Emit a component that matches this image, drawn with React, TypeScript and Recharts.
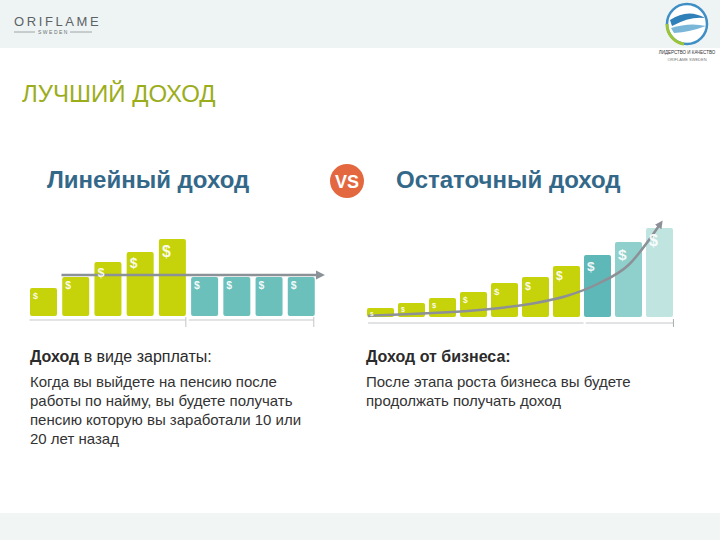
import { ComposedChart, Bar, Cell, Line, XAxis, YAxis, ReferenceLine, LabelList } from "recharts";

// Left chart: linear income (salary years, then flat pension)
const linearIdx = [1, 2, 3, 4, 5, 6, 7, 8, 9];
const linearValues = [28, 39, 54, 64, 77, 39, 39, 39, 39];
const linearKinds = ["work", "work", "work", "work", "work", "pension", "pension", "pension", "pension"];
const linearArrowLevel = 41;

// Right chart: residual income (business growth, then passive income)
const residualIdx = [1, 2, 3, 4, 5, 6, 7, 8, 9, 10];
const residualValues = [9, 14, 19, 25, 34, 40, 51, 62, 75, 89];
const residualKinds = ["grow", "grow", "grow", "grow", "grow", "grow", "grow", "passive1", "passive2", "passive3"];
const curveIdx = [0.6, 1, 2, 3, 4, 5, 6, 7, 8, 9, 10];
const curveValues = [1, 1.8, 3, 4.5, 6.5, 9.5, 14, 21, 33, 52, 92];

const KIND_COLORS: Record<string, string> = {
  work: "#c6d20a",
  pension: "#6cc0bc",
  grow: "#c6d20a",
  passive1: "#5fb8b8",
  passive2: "#8fd0cc",
  passive3: "#c0e4e0",
};

const FONT = "'Liberation Sans', Arial, sans-serif";

const linearData = linearIdx.map((i, k) => ({ i, v: linearValues[k], kind: linearKinds[k] }));
const residualData = residualIdx.map((i, k) => ({ i, v: residualValues[k], kind: residualKinds[k] }));
const curveData = curveIdx.map((i, k) => ({ i, c: curveValues[k] }));

// white "$" in the top-left corner of every bar, bigger on taller bars
function Dollar(props: any) {
  const box = props.viewBox && props.viewBox.height != null ? props.viewBox : props;
  const x = Number(box.x);
  const y = Number(box.y);
  const h = Number(box.height);
  if (!isFinite(x) || !isFinite(y)) return null;
  const fs = Math.max(6, Math.min(16, 5 + h * 0.14));
  return (
    <text x={x + 3} y={y + fs + 2} fill="#ffffff" fillOpacity={0.92} fontSize={fs} fontWeight={700} fontFamily={FONT}>
      $
    </text>
  );
}

function Header() {
  return (
    <>
      <div style={{ position: "absolute", left: 0, top: 0, width: 720, height: 48, background: "#eef4f3" }} />
      <svg style={{ position: "absolute", left: 0, top: 0 }} width={720} height={70}>
        <text x={14} y={26} fontSize={13} letterSpacing={2.6} fill="#5d6266" fontFamily={FONT}>
          ORIFLAME
        </text>
        <line x1={14} y1={32} x2={35} y2={32} stroke="#8a8f92" strokeWidth={0.8} />
        <text x={38} y={34} fontSize={5} letterSpacing={1.5} fill="#6c7174" fontFamily={FONT}>
          SWEDEN
        </text>
        <line x1={70} y1={32} x2={92} y2={32} stroke="#8a8f92" strokeWidth={0.8} />
        {/* round emblem top right */}
        <circle cx={687} cy={24} r={20} fill="#ffffff" stroke="#3f8fc6" strokeWidth={2.5} />
        <path d="M667 24 A20 20 0 0 0 684 44" fill="none" stroke="#9cc43a" strokeWidth={3} />
        <path d="M670 20 Q688 8 705 18 Q690 16 672 26 Z" fill="#2f7fb8" />
        <path d="M671 28 Q690 22 706 26 Q690 32 674 33 Z" fill="#79b6d8" />
        <text x={687} y={54} fontSize={4.5} textAnchor="middle" fill="#333" fontFamily={FONT}>
          ЛИДЕРСТВО И КАЧЕСТВО
        </text>
        <text x={687} y={61} fontSize={4} textAnchor="middle" fill="#777" fontFamily={FONT}>
          ORIFLAME SWEDEN
        </text>
      </svg>
    </>
  );
}

export default function App() {
  return (
    <div
      style={{
        position: "absolute",
        left: 0,
        top: 0,
        width: 720,
        height: 540,
        background: "#ffffff",
        overflow: "hidden",
        fontFamily: FONT,
      }}
    >
      {/* arrow heads shared by both charts */}
      <svg width={0} height={0} style={{ position: "absolute" }}>
        <defs>
          <marker id="arrowFlat" viewBox="0 0 10 10" refX={3} refY={5} markerWidth={9} markerHeight={10} markerUnits="userSpaceOnUse" orient="auto">
            <path d="M0,0 L10,5 L0,10 z" fill="#8a9197" />
          </marker>
          <marker id="arrowCurve" viewBox="0 0 10 10" refX={3} refY={5} markerWidth={8} markerHeight={8} markerUnits="userSpaceOnUse" orient="auto">
            <path d="M0,0 L10,5 L0,10 z" fill="#8d9097" />
          </marker>
        </defs>
      </svg>

      <Header />

      <div style={{ position: "absolute", left: 22, top: 82, fontSize: 24, lineHeight: 1, color: "#9cad1c" }}>ЛУЧШИЙ ДОХОД</div>

      <div style={{ position: "absolute", left: 47, top: 168, fontSize: 24, lineHeight: 1, fontWeight: 700, color: "#346889" }}>
        Линейный доход
      </div>
      <svg style={{ position: "absolute", left: 328, top: 162 }} width={38} height={38}>
        <circle cx={19} cy={19} r={17} fill="#e4683f" />
        <text x={19} y={26} textAnchor="middle" fontSize={18} fontWeight={700} fill="#ffffff" fontFamily={FONT}>
          VS
        </text>
      </svg>
      <div style={{ position: "absolute", left: 396, top: 168, fontSize: 24, lineHeight: 1, fontWeight: 700, color: "#346889" }}>
        Остаточный доход
      </div>

      {/* left chart */}
      <div style={{ position: "absolute", left: 0, top: 200 }}>
        <ComposedChart width={340} height={140} data={linearData} margin={{ top: 16, right: 23, bottom: 12, left: 27 }}>
          <XAxis type="number" dataKey="i" domain={[0.5, 9.5]} hide />
          <YAxis type="number" domain={[-12, 100]} hide />
          <Bar dataKey="v" barSize={27} radius={2} isAnimationActive={false}>
            {linearData.map((d) => (
              <Cell key={`l-${d.i}`} fill={KIND_COLORS[d.kind]} />
            ))}
            <LabelList dataKey="v" content={Dollar} />
          </Bar>
          <ReferenceLine
            segment={[{ x: 1.57, y: linearArrowLevel }, { x: 9.55, y: linearArrowLevel }]}
            stroke="#8a9197"
            strokeWidth={2.5}
            markerEnd="url(#arrowFlat)"
            ifOverflow="visible"
          />
          <ReferenceLine segment={[{ x: 0.58, y: -4 }, { x: 5.43, y: -4 }]} stroke="#c3c7c9" strokeWidth={1} ifOverflow="visible" />
          <ReferenceLine segment={[{ x: 5.43, y: -1 }, { x: 5.43, y: -11 }]} stroke="#c3c7c9" strokeWidth={1} ifOverflow="visible" />
          <ReferenceLine segment={[{ x: 5.52, y: -4 }, { x: 9.4, y: -4 }]} stroke="#c3c7c9" strokeWidth={1} ifOverflow="visible" />
          <ReferenceLine segment={[{ x: 9.4, y: -1 }, { x: 9.4, y: -11 }]} stroke="#c3c7c9" strokeWidth={1} ifOverflow="visible" />
        </ComposedChart>
      </div>

      {/* right chart: bars and curve on twin x axes so the curve's start point does not shrink the bars */}
      <div style={{ position: "absolute", left: 340, top: 201 }}>
        <ComposedChart width={360} height={140} data={residualData} margin={{ top: 16, right: 25, bottom: 12, left: 25 }}>
          <XAxis xAxisId="bars" type="number" dataKey="i" domain={[0.5, 10.5]} hide />
          <XAxis xAxisId="curve" type="number" dataKey="i" domain={[0.5, 10.5]} hide />
          <YAxis type="number" domain={[-12, 100]} hide />
          <Bar xAxisId="bars" dataKey="v" barSize={27} radius={2} isAnimationActive={false}>
            {residualData.map((d) => (
              <Cell key={`r-${d.i}`} fill={KIND_COLORS[d.kind]} />
            ))}
            <LabelList dataKey="v" content={Dollar} />
          </Bar>
          <Line
            xAxisId="curve"
            data={curveData}
            dataKey="c"
            type="monotone"
            dot={false}
            activeDot={false}
            stroke="#8d9097"
            strokeWidth={2.5}
            markerEnd="url(#arrowCurve)"
            isAnimationActive={false}
          />
          <ReferenceLine xAxisId="bars" segment={[{ x: 0.6, y: -6 }, { x: 7.55, y: -6 }]} stroke="#c3c7c9" strokeWidth={1} ifOverflow="visible" />
          <ReferenceLine xAxisId="bars" segment={[{ x: 7.62, y: -6 }, { x: 10.45, y: -6 }]} stroke="#c3c7c9" strokeWidth={1} ifOverflow="visible" />
          <ReferenceLine xAxisId="bars" segment={[{ x: 10.45, y: -2 }, { x: 10.45, y: -10 }]} stroke="#a9adb0" strokeWidth={1} ifOverflow="visible" />
        </ComposedChart>
      </div>

      {/* captions */}
      <div style={{ position: "absolute", left: 30, top: 349, fontSize: 16, lineHeight: 1, color: "#2b2b2b" }}>
        <b>Доход</b> в виде зарплаты:
      </div>
      <div style={{ position: "absolute", left: 30, top: 372, width: 300, fontSize: 15, lineHeight: "19px", color: "#333333" }}>
        Когда вы выйдете на пенсию после
        <br />
        работы по найму, вы будете получать
        <br />
        пенсию которую вы заработали 10 или
        <br />
        20 лет назад
      </div>
      <div style={{ position: "absolute", left: 366, top: 349, fontSize: 16, lineHeight: 1, fontWeight: 700, color: "#2b2b2b" }}>
        Доход от бизнеса:
      </div>
      <div style={{ position: "absolute", left: 366, top: 372, width: 320, fontSize: 15, lineHeight: "19px", color: "#333333" }}>
        После этапа роста бизнеса вы будете
        <br />
        продолжать получать доход
      </div>

      <div style={{ position: "absolute", left: 0, top: 513, width: 720, height: 27, background: "#f1f6f5" }} />
    </div>
  );
}
